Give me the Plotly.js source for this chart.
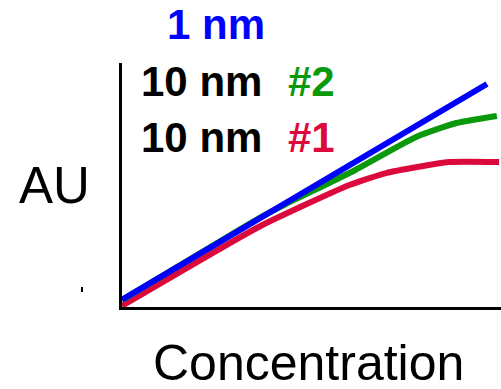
<!DOCTYPE html>
<html>
<head>
<meta charset="utf-8">
<script src="https://cdn.plot.ly/plotly-3.0.1.min.js"></script>
<style>html,body{margin:0;padding:0;background:#fff;}#chart{width:501px;height:389px;}</style>
</head>
<body>
<div id="chart"></div>
<script>
// Concentration (arbitrary units) and signal (AU)
const blueX = [0, 9.63];
const blueY = [0.3, 9.14];
const greenX = [0, 3.6, 4.3, 6.0, 7.76, 8.82, 9.89];
const greenY = [0.28, 3.62, 4.2, 5.49, 6.97, 7.54, 7.83];
const redX = [0, 3.63, 6.0, 6.97, 8.63, 9.95];
const redY = [0.05, 3.3, 5.0, 5.49, 5.94, 5.94];
const seriesNames = ["1 nm", "10 nm #2", "10 nm #1"];

const FONT = "Liberation Sans, Arial, sans-serif";

const traces = [
  {x: redX, y: redY, mode: "lines", name: seriesNames[2], line: {color: "#dc0a3c", width: 6, shape: "spline", smoothing: 0.5}},
  {x: greenX, y: greenY, mode: "lines", name: seriesNames[1], line: {color: "#0a990a", width: 6, shape: "spline", smoothing: 0.5}},
  {x: blueX, y: blueY, mode: "lines", name: seriesNames[0], line: {color: "#0000ff", width: 6}}
];

const layout = {
  width: 501, height: 389,
  margin: {l: 122, r: 0, t: 63, b: 82},
  paper_bgcolor: "#fff", plot_bgcolor: "#fff",
  showlegend: false,
  font: {family: FONT, color: "#000"},
  xaxis: {range: [0, 10], showgrid: false, zeroline: false, showticklabels: false, ticks: "",
          showline: true, linecolor: "#000", linewidth: 3},
  yaxis: {range: [0, 10], showgrid: false, zeroline: false, showticklabels: false, ticks: "",
          showline: true, linecolor: "#000", linewidth: 3},
  annotations: [
    {text: "<b>1 nm</b>", xref: "paper", yref: "paper", x: 0.247, y: 1.156, xanchor: "center", yanchor: "middle",
     showarrow: false, font: {size: 42, color: "#0000ff", family: FONT}},
    {text: "<b>10 nm</b>", xref: "paper", yref: "paper", x: 0.045, y: 0.926, xanchor: "left", yanchor: "middle",
     showarrow: false, font: {size: 42, color: "#000", family: FONT}},
    {text: "<b>#2</b>", xref: "paper", yref: "paper", x: 0.434, y: 0.926, xanchor: "left", yanchor: "middle",
     showarrow: false, font: {size: 42, color: "#0a990a", family: FONT}},
    {text: "<b>10 nm</b>", xref: "paper", yref: "paper", x: 0.045, y: 0.693, xanchor: "left", yanchor: "middle",
     showarrow: false, font: {size: 42, color: "#000", family: FONT}},
    {text: "<b>#1</b>", xref: "paper", yref: "paper", x: 0.434, y: 0.693, xanchor: "left", yanchor: "middle",
     showarrow: false, font: {size: 42, color: "#dc0a3c", family: FONT}},
    {text: "AU", xref: "paper", yref: "paper", x: -0.178, y: 0.496, xanchor: "center", yanchor: "middle",
     showarrow: false, font: {size: 51, color: "#000", family: FONT}},
    {text: "Concentration", xref: "paper", yref: "paper", x: 0.492, y: -0.23, xanchor: "center", yanchor: "middle",
     showarrow: false, font: {size: 50, color: "#000", family: FONT}}
  ],
  shapes: [
    {type: "line", xref: "paper", yref: "paper", x0: -0.1055, x1: -0.1055, y0: 0.0615, y1: 0.082,
     line: {color: "#000", width: 2}}
  ]
};

Plotly.newPlot("chart", traces, layout, {staticPlot: true, displayModeBar: false});
</script>
</body>
</html>
